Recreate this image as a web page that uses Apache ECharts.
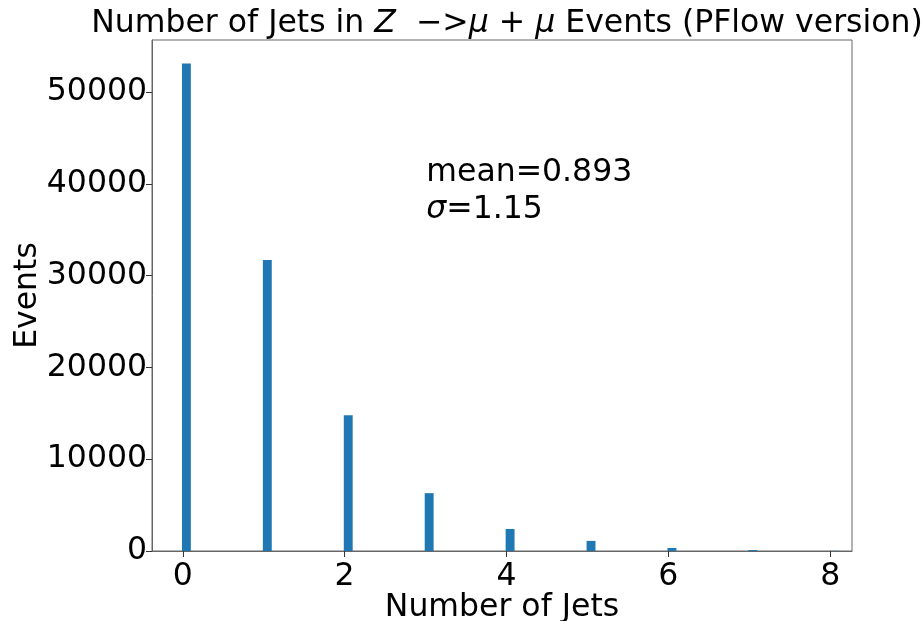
<!DOCTYPE html>
<html>
<head>
<meta charset="utf-8">
<script src="https://cdn.jsdelivr.net/npm/echarts@6/dist/echarts.min.js"></script>
<style>html,body{margin:0;padding:0;background:#fff;}#c{width:922px;height:621px;}</style>
</head>
<body>
<div id="c"></div>
<script>
var jetCounts = [0, 1, 2, 3, 4, 5, 6, 7, 8];
var events = [53100, 31700, 14800, 6300, 2400, 1100, 330, 110, 20];
var xTicks = [0, 2, 4, 6, 8];
var yTicks = [0, 10000, 20000, 30000, 40000, 50000];
var meanText = 'mean=0.893';
var sigmaSymbol = 'σ';
var sigmaValue = '=1.15';

var FONT = 'DejaVu Sans';
var FS = 31.5;
var binStart = -0.01, binWidth = 0.11;

var chart = echarts.init(document.getElementById('c'), null, {renderer: 'canvas'});
var data = jetCounts.map(function (x, i) { return [x, events[i]]; });

chart.setOption({
  animation: false,
  backgroundColor: '#fff',
  title: {
    text: '{n|Number of Jets in }{i|Z}{n|  −>}{i|μ}{n| + }{i|μ}{n| Events (PFlow version)}',
    left: 502, textAlign: 'center', top: 3,
    textStyle: {
      fontWeight: 'normal',
      rich: {
        n: {fontFamily: FONT, fontSize: FS, fontWeight: 'normal', color: '#000'},
        i: {fontFamily: FONT, fontSize: FS, fontWeight: 'normal', fontStyle: 'italic', color: '#000'}
      }
    }
  },
  grid: {left: 152, right: 70, top: 40, bottom: 70, outerBoundsMode: 'none', containLabel: false,
         show: true, borderColor: '#666', borderWidth: 1, backgroundColor: 'transparent'},
  xAxis: {
    type: 'value', min: -0.38, max: 8.27,
    name: 'Number of Jets', nameLocation: 'middle', nameGap: 41, nameMoveOverlap: false,
    nameTextStyle: {fontFamily: FONT, fontSize: FS, color: '#000'},
    axisLine: {show: true, onZero: false, lineStyle: {color: '#666', width: 1}},
    axisTick: {show: true, length: 6, lineStyle: {color: '#333'}, customValues: xTicks},
    axisLabel: {fontFamily: FONT, fontSize: FS, color: '#000', margin: 10, customValues: xTicks},
    splitLine: {show: false}
  },
  yAxis: {
    type: 'value', min: 0, max: 55660,
    name: 'Events', nameLocation: 'middle', nameGap: 108, nameRotate: 90, nameMoveOverlap: false,
    nameTextStyle: {fontFamily: FONT, fontSize: FS, color: '#000'},
    axisLine: {show: true, onZero: false, lineStyle: {color: '#666', width: 1}},
    axisTick: {show: true, length: 6, lineStyle: {color: '#333'}, customValues: yTicks},
    axisLabel: {fontFamily: FONT, fontSize: FS, color: '#000', margin: 5, customValues: yTicks,
                formatter: function (v) { return String(v); }},
    splitLine: {show: false}
  },
  series: [{
    type: 'custom',
    data: data,
    renderItem: function (params, api) {
      var x = api.value(0), v = api.value(1);
      var p1 = api.coord([x + binStart, v]);
      var p2 = api.coord([x + binStart + binWidth, 0]);
      return {
        type: 'rect',
        shape: {x: p1[0], y: p1[1], width: p2[0] - p1[0], height: p2[1] - p1[1]},
        style: {fill: '#1f77b4'}
      };
    },
    encode: {x: 0, y: 1}
  }]
});

var anchor = chart.convertToPixel({gridIndex: 0}, [3.01, 42900]);
chart.setOption({
  graphic: [{
    type: 'text', left: anchor[0], top: anchor[1],
    style: {
      text: '{n|' + meanText + '}\n{i|' + sigmaSymbol + '}{n|' + sigmaValue + '}',
      rich: {
        n: {fontFamily: FONT, fontSize: FS, lineHeight: 37, fill: '#000', color: '#000'},
        i: {fontFamily: FONT, fontSize: FS, lineHeight: 37, fontStyle: 'italic', fill: '#000', color: '#000'}
      }
    }
  }]
});
</script>
</body>
</html>
